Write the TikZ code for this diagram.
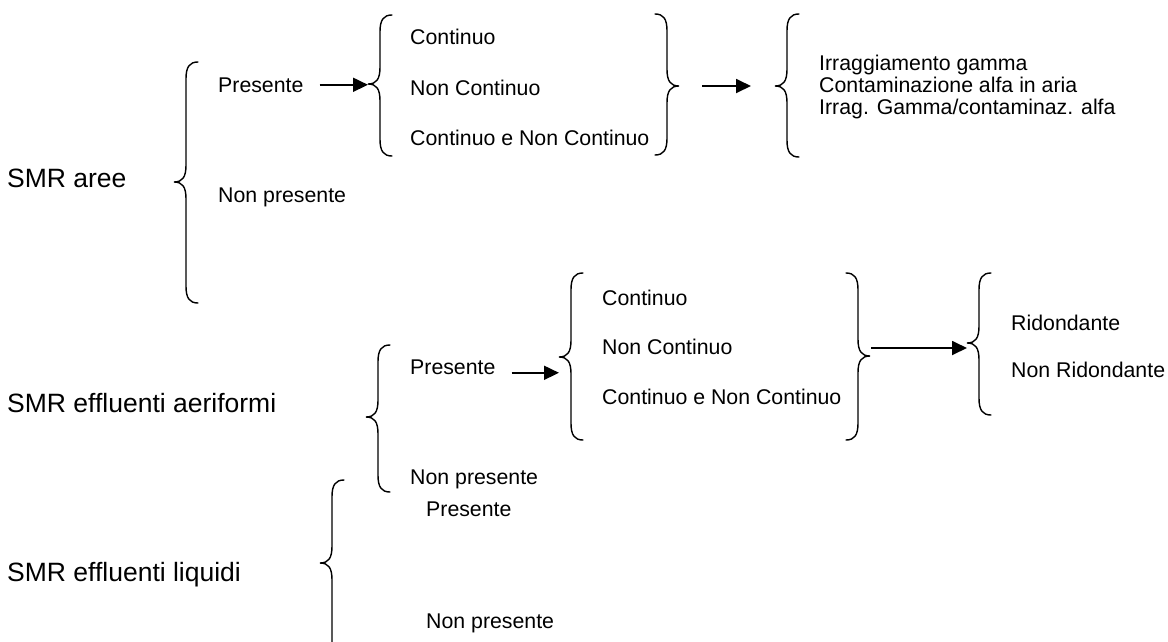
\documentclass[tikz,border=0pt]{standalone}
\usepackage{fontspec}
\setmainfont{Liberation Sans}
\usetikzlibrary{arrows.meta}
\tikzset{
  big/.style={font=\fontsize{26.5}{30}\selectfont, inner sep=0pt, anchor=base west},
  small/.style={font=\fontsize{21.3}{24}\selectfont, inner sep=0pt, anchor=base west},
  brace/.style={line width=1.4pt, line cap=round},
  arr/.style={line width=1.8pt, -{Triangle[length=15pt,width=14pt]}}
}
% name, x of vertical, top, tip, bottom, w (horizontal); vertical extent of curves = 1.4 w
\newcommand{\BraceL}[6]{%
  \draw[brace] ({#2+#6},#3) .. controls ({#2+0.3*#6},#3) and (#2,{#3+0.4*#6}) .. (#2,{#3+1.4*#6})
     -- (#2,{#4-1.4*#6})
     .. controls (#2,{#4-0.4*#6}) and ({#2-0.3*#6},#4) .. ({#2-#6},#4)
     .. controls ({#2-0.3*#6},#4) and (#2,{#4+0.4*#6}) .. (#2,{#4+1.4*#6})
     -- (#2,{#5-1.4*#6})
     .. controls (#2,{#5-0.4*#6}) and ({#2+0.3*#6},#5) .. ({#2+#6},#5);
  \coordinate (#1) at ({#2-#6},#4);}
\newcommand{\BraceR}[6]{%
  \draw[brace] ({#2-#6},#3) .. controls ({#2-0.3*#6},#3) and (#2,{#3+0.4*#6}) .. (#2,{#3+1.4*#6})
     -- (#2,{#4-1.4*#6})
     .. controls (#2,{#4-0.4*#6}) and ({#2+0.3*#6},#4) .. ({#2+#6},#4)
     .. controls ({#2+0.3*#6},#4) and (#2,{#4+0.4*#6}) .. (#2,{#4+1.4*#6})
     -- (#2,{#5-1.4*#6})
     .. controls (#2,{#5-0.4*#6}) and ({#2-0.3*#6},#5) .. ({#2-#6},#5);
  \coordinate (#1) at ({#2+#6},#4);}
\begin{document}
\begin{tikzpicture}[x=1pt,y=-1pt]
\useasboundingbox (0,0) rectangle (1168,641);
% main labels
\node[big] (aree) at (7,187) {SMR aree};
\node[big] (aer) at (7,412) {SMR effluenti aeriformi};
\node[big] (liq) at (7,581) {SMR effluenti liquidi};
% SMR aree branch
\BraceL{b1tip}{186}{62}{182}{303}{12}
\node[small] (p1) at (218,92) {Presente};
\node[small] (np1) at (218,202) {Non presente};
\BraceL{b2tip}{380}{15}{84}{156}{12}
\node[small] (c1a) at (410,44) {Continuo};
\node[small] (c1b) at (410,95) {Non Continuo};
\node[small] (c1c) at (410,145) {Continuo e Non Continuo};
\BraceR{b3tip}{667}{14}{86}{155}{12}
\BraceL{b4tip}{787}{14}{86}{157}{12}
\node[small] (r1a) at (819,70) {Irraggiamento gamma};
\node[small] (r1b) at (819,92) {Contaminazione alfa in aria};
\node[small] (r1c) at (819,114) {Irrag. Gamma/contaminaz. alfa};
\draw[arr, shorten <=16pt] (p1.east) -- (p1.east -| b2tip);
\draw[arr, shorten <=23pt, shorten >=24pt] (b3tip) -- (b4tip);
% SMR effluenti aeriformi branch
\BraceL{b5tip}{378}{345}{417}{492}{12}
\node[small] (p2) at (410,374) {Presente};
\node[small] (np2) at (410,484) {Non presente};
\BraceL{b6tip}{571}{273}{357}{440}{12}
\node[small] (c2a) at (602,305) {Continuo};
\node[small] (c2b) at (602,354) {Non Continuo};
\node[small] (c2c) at (602,404) {Continuo e Non Continuo};
\BraceR{b7tip}{858}{273}{356}{440}{12}
\BraceL{b8tip}{979}{273}{343}{415}{12}
\node[small] (rid) at (1011,330) {Ridondante};
\node[small] (nrid) at (1011,377) {Non Ridondante};
\coordinate (a3s) at ([xshift=16pt,yshift=-6pt]p2.east);
\draw[arr] (a3s) -- (a3s -| b6tip);
\coordinate (a4s) at (871,348);
\draw[arr] (a4s) -- (a4s -| b8tip);
% SMR effluenti liquidi branch
\BraceL{b9tip}{332}{480}{563}{660}{12}
\node[small] (p3) at (426,516) {Presente};
\node[small] (np3) at (426,628) {Non presente};
\end{tikzpicture}
\end{document}
